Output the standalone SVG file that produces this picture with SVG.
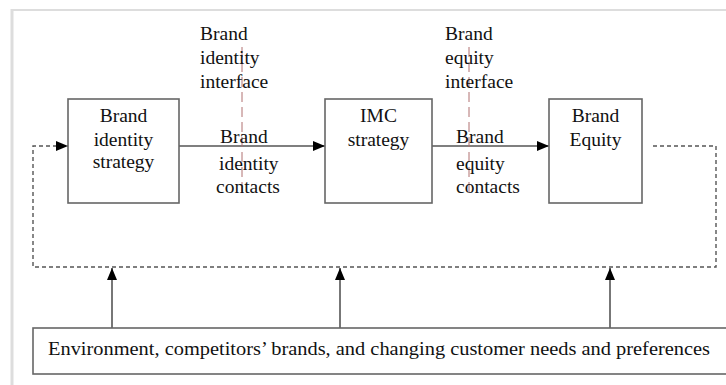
<svg xmlns="http://www.w3.org/2000/svg" width="726" height="385" viewBox="0 0 726 385" font-family="'Liberation Serif', 'Times New Roman', 'DejaVu Serif', serif">
<defs>
<style>
text{font-family:'Liberation Serif','Times New Roman','DejaVu Serif',serif;font-size:19.5px;fill:#111}
.c{text-anchor:middle}
.box{fill:#fff;stroke:#666;stroke-width:1.6}
.ln{fill:none;stroke:#555;stroke-width:1.6}
.dash{fill:none;stroke:#555;stroke-width:1.4;stroke-dasharray:4 3}
.red{fill:none;stroke:#b07070;stroke-width:1;stroke-dasharray:10 5}
</style>
<marker id="ah" viewBox="0 0 12 10" refX="12" refY="5" markerWidth="12" markerHeight="10" markerUnits="userSpaceOnUse" orient="auto">
<path d="M0,0 L12,5 L0,10 Z" fill="#000"/>
</marker>
</defs>
<rect width="726" height="385" fill="#fff"/>
<g id="frame">
<line x1="12" y1="10" x2="726" y2="10" stroke="#ddd" stroke-width="2"/>
<line x1="12" y1="9" x2="12" y2="385" stroke="#ddd" stroke-width="3"/>
</g>
<g id="connectors">
<line class="ln" x1="179" y1="146" x2="325" y2="146" marker-end="url(#ah)"/>
<line class="ln" x1="432" y1="146" x2="549" y2="146" marker-end="url(#ah)"/>
<polyline class="dash" points="653,146 716,146 716,267 33,267 33,146 68,146" marker-end="url(#ah)"/>
<line class="ln" x1="112" y1="328" x2="112" y2="268" marker-end="url(#ah)"/>
<line class="ln" x1="340" y1="328" x2="340" y2="268" marker-end="url(#ah)"/>
<line class="ln" x1="610" y1="328" x2="610" y2="268" marker-end="url(#ah)"/>
<line class="red" x1="242" y1="47" x2="242" y2="196"/>
<line class="red" x1="469" y1="47" x2="469" y2="196"/>
</g>
<g id="node-identity">
<rect class="box" x="68" y="99" width="111" height="104"/>
<text class="c" x="123.5" y="122">Brand</text>
<text class="c" x="123.5" y="146">identity</text>
<text class="c" x="123.5" y="168">strategy</text>
</g>
<g id="node-imc">
<rect class="box" x="325" y="99" width="107" height="104"/>
<text class="c" x="378.5" y="122">IMC</text>
<text class="c" x="378.5" y="146">strategy</text>
</g>
<g id="node-equity">
<rect class="box" x="549" y="99" width="93" height="104"/>
<text class="c" x="595.5" y="122">Brand</text>
<text class="c" x="595.5" y="146">Equity</text>
</g>
<g id="node-environment">
<rect class="box" x="33" y="328" width="700" height="46"/>
<text x="48" y="355" textLength="662" lengthAdjust="spacingAndGlyphs">Environment, competitors’ brands, and changing customer needs and preferences</text>
</g>
<g id="label-identity-interface">
<text x="200" y="40">Brand</text>
<text x="200" y="64">identity</text>
<text x="200" y="88">interface</text>
</g>
<g id="label-identity-contacts">
<text x="220" y="143">Brand</text>
<text x="219" y="170">identity</text>
<text x="216" y="193">contacts</text>
</g>
<g id="label-equity-interface">
<text x="445" y="40">Brand</text>
<text x="445" y="64">equity</text>
<text x="445" y="88">interface</text>
</g>
<g id="label-equity-contacts">
<text x="456" y="143">Brand</text>
<text x="456" y="170">equity</text>
<text x="456" y="193">contacts</text>
</g>
</svg>
